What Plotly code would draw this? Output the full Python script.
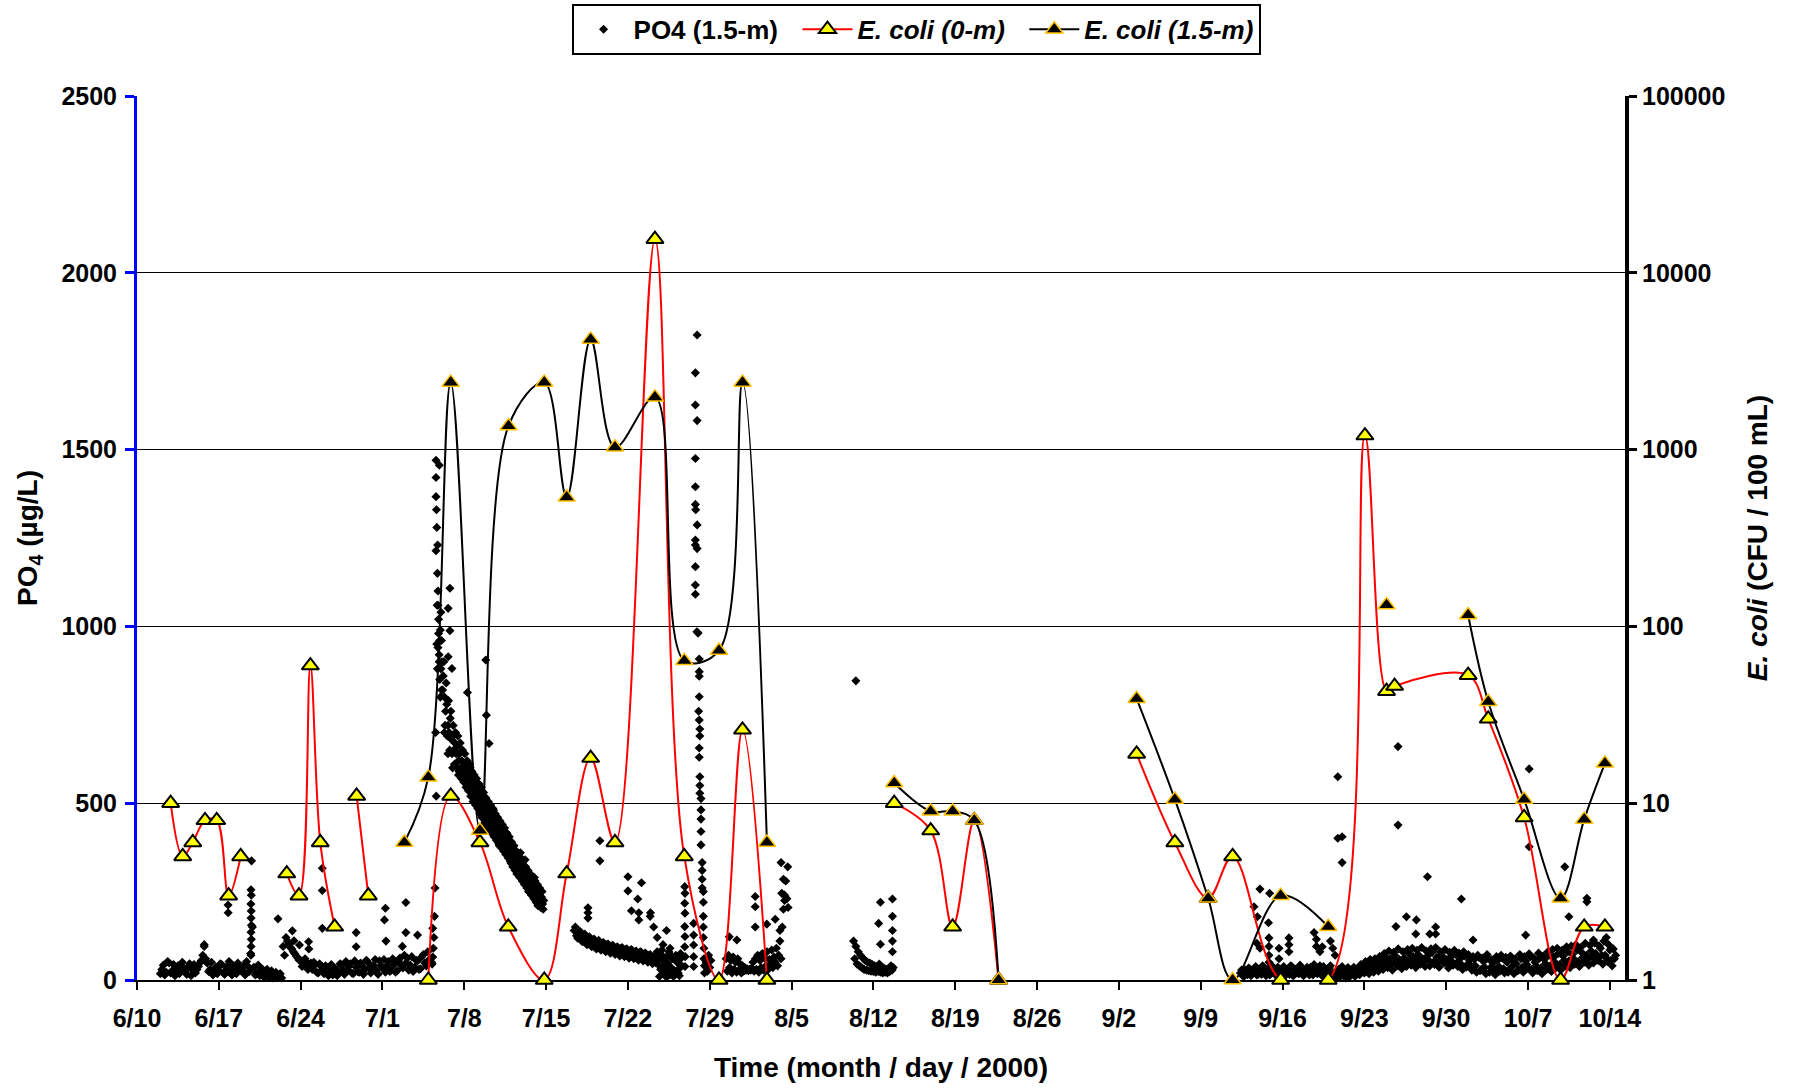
import plotly.graph_objects as go
from datetime import datetime, timedelta

BASE = datetime(2000, 6, 10)

# ---------------- E. coli (CFU / 100 mL), day = days after 6/10/2000 ----------------
ecoli0_day = [2.88, 3.91, 4.77, 5.82, 6.82, 7.84, 8.87, None,
              12.81, 13.86, 14.83, 15.68, 16.91, None,
              18.79, 19.79, None,
              24.92, 26.84, 29.34, 31.76, 34.84, 36.76, 38.81, 40.89, 44.31, 46.82, 49.79, 51.80, 53.89, None,
              64.78, 67.90, 69.78, 71.63, 73.71, None,
              85.52, 88.79, 91.64, 93.73, 97.84, 101.91, 105.05, 106.90, 107.59, 113.88, 115.60,
              118.67, 121.79, 123.81, 125.58]
ecoli0_val = [10, 5, 6, 8, 8, 3, 5, None,
              4, 3, 60, 6, 2, None,
              11, 3, None,
              1, 11, 6, 2, 1, 4, 18, 6, 15500, 5, 1, 26, 1, None,
              10, 7, 2, 8, 1, None,
              19, 6, 2.9, 5, 1, 1, 1200, 43, 46, 53, 30,
              8.3, 1, 2, 2]

ecoli15_day = [22.87, 24.92, 26.84, 29.34, 31.78, 34.84, 36.76, 38.81, 40.89, 44.31, 46.82, 49.79, 51.80, 53.89, None,
               64.78, 67.90, 69.78, 71.63, 73.71, None,
               85.52, 88.79, 91.64, 93.73, 97.84, 101.91, None,
               106.90, None,
               113.88, 115.60, 118.67, 121.79, 123.81, 125.58]
ecoli15_val = [6, 14, 2400, 7, 1360, 2400, 537, 4200, 1030, 1980, 64, 73, 2400, 6, None,
               13, 9, 9, 8, 1, None,
               39, 10.5, 2.9, 1, 3, 2, None,
               132, None,
               116, 37.5, 10.5, 2.9, 8.1, 16.8]

# ---------------- PO4 (ug/L) logged readings: start day, logging step (days), values ----------------
po4_jun = [18, 42, 22, 48, 26, 12, 40, 24, 34, 16, 46, 28, 20, 38, 55, 95,
           48, 30, 14, 36, 26, 44, 16, 34, 22, 40, 18, 32, 28, 14, 38, 70,
           36, 20, 12, 30, 18, 8, 26, 12, 8, 18, 95, 120, 102, 88, 74, 62,
           56, 44, 50, 36, 30, 44, 20, 38, 18, 36, 24, 14, 32, 20, 42, 16,
           28, 46, 18, 36, 22, 40, 30, 50, 20, 42, 26, 54, 34, 22, 52, 28,
           44, 26, 62, 34, 48, 28, 66, 36, 54, 32, 72, 40, 58]
po4_jun_b = [30, 14, 52, 20, 44, 28, 18, 50, 22, 38, 12, 44, 30, 48, 70, 60,
             24, 50, 28, 18, 46, 20, 36, 52, 14, 30, 48, 26, 40, 52, 24, 150,
             14, 42, 26, 8, 30, 16, 6, 22, 14, 6, 70, 110, 92, 80, 68, 56,
             38, 60, 30, 48, 50, 22, 46, 28, 40, 12, 44, 30, 12, 46, 28, 52,
             38, 20, 54, 24, 48, 16, 56, 34, 36, 58, 16, 40, 58, 40, 24, 60,
             22, 54, 40, 70, 62, 42, 24, 56, 30, 66, 48, 80]
po4_jul_peak = [50, 65, 120, 260, 520, 880, 1020, 960, 1040, 900,
                860, 800, 760, 780, 720, 700, 740, 680, 690, 650,
                670, 640, 660, 620, 640, 600, 620, 590, 610, 575,
                595, 565, 580, 550, 570, 540, 555, 525, 545, 515,
                530, 500, 520, 490, 505, 475, 495, 465, 480, 455,
                470, 445, 460, 435, 450, 425, 440, 410, 425, 400,
                415, 390, 405, 380, 395, 370, 385, 355, 370, 340,
                360, 330, 350, 320, 340, 310, 330, 300, 320, 290,
                305, 280, 295, 270, 285, 255, 270, 245, 260, 240,
                255, 230, 245, 225, 235, 215, 225]
po4_jul_peak_b = [45, 90, 180, 700, 950, 1060, 900, 990, 960, 820,
                  900, 720, 840, 690, 790, 650, 760, 640, 720, 610,
                  700, 600, 690, 590, 670, 570, 650, 560, 640, 545,
                  620, 535, 610, 520, 590, 505, 580, 495, 570, 485,
                  555, 470, 545, 460, 530, 445, 515, 435, 505, 425,
                  495, 415, 485, 405, 470, 395, 460, 385, 450, 375,
                  440, 365, 430, 355, 415, 345, 405, 335, 390, 320,
                  380, 310, 365, 300, 355, 290, 345, 280, 335, 270,
                  320, 260, 310, 250, 300, 240, 290, 230, 280, 220,
                  270, 215, 260, 205, 250, 200]
po4_jul_late = [140, 125, 132, 115, 125, 108, 118, 102, 112, 96,
                108, 92, 104, 88, 100, 84, 96, 80, 92, 76,
                90, 74, 86, 70, 84, 68, 80, 64, 78, 60,
                74, 58, 70, 54, 66, 48, 60, 30, 55, 20,
                48, 15, 60, 25, 50, 12, 40]
po4_jul_late_b = [150, 118, 138, 108, 130, 100, 122, 94, 116, 88,
                  112, 84, 106, 80, 102, 76, 98, 72, 94, 68,
                  92, 66, 88, 62, 86, 60, 82, 56, 80, 54,
                  76, 50, 72, 46, 68, 80, 40, 85, 18, 65,
                  30, 70, 15, 55, 20, 60]
po4_aug_early = [60, 25, 70, 35, 55, 20, 65, 30, 50, 22,
                 60, 28, 45, 20, 40, 25, 35, 28, 32, 26,
                 30, 28, 34, 50, 25, 60, 30, 70, 22, 55,
                 35, 75, 28, 62, 40, 80, 30, 58, 45, 85,
                 35, 65, 50, 90, 40, 70, 110, 60, 150, 200,
                 240, 280, 230]
po4_aug_mid = [110, 60, 95, 45, 80, 40, 70, 35, 62, 30,
               55, 28, 50, 26, 48, 25, 44, 24, 40, 22,
               38, 24, 45, 22, 36, 20, 34, 22, 30, 20,
               32, 24, 40, 28, 35]
po4_sep_oct = [20, 12, 28, 15, 32, 18, 26, 14, 30, 16,
               24, 12, 34, 18, 28, 14, 36, 20, 26, 12,
               30, 16, 38, 14, 26, 18, 34, 12, 28, 20,
               36, 14, 30, 18, 40, 12, 26, 22, 34, 10,
               20, 8, 30, 12, 24, 6, 35, 14, 28, 10,
               32, 15, 40, 20, 35, 18, 45, 22, 50, 25,
               55, 30, 65, 35, 60, 28, 70, 40, 58, 32,
               62, 38, 75, 42, 66, 35, 72, 45, 60, 38,
               68, 40, 78, 44, 64, 36, 70, 48, 58, 34,
               66, 42, 72, 38, 60, 30, 68, 44, 56, 28,
               58, 22, 64, 30, 52, 18, 60, 35, 48, 15,
               55, 25, 62, 20, 50, 30, 58, 18, 46, 28,
               60, 22, 54, 32, 66, 20, 50, 26, 62, 18,
               58, 30, 70, 24, 64, 35, 75, 28, 68, 40,
               80, 35, 72, 45, 85, 38, 78, 50, 70, 42,
               82, 48, 75, 55, 90, 45, 70, 52, 85, 40,
               60]
po4_sep_oct_b = [28, 10, 22, 34, 12, 26, 38, 16, 24, 40,
                 18, 30, 14, 40, 22, 32, 12, 28, 38, 16,
                 24, 40, 12, 30, 20, 42, 16, 26, 36, 14,
                 26, 44, 20, 32, 16, 38, 28, 14, 40, 18,
                 14, 26, 10, 38, 18, 30, 8, 24, 36, 16,
                 24, 44, 28, 52, 30, 58, 34, 60, 38, 66,
                 42, 75, 48, 82, 45, 78, 52, 88, 46, 80,
                 50, 86, 55, 90, 48, 84, 58, 92, 52, 82,
                 56, 88, 50, 92, 54, 80, 60, 86, 46, 78,
                 52, 84, 48, 76, 44, 80, 36, 72, 40, 66,
                 40, 70, 26, 62, 36, 72, 22, 58, 30, 66,
                 38, 70, 32, 64, 22, 68, 40, 60, 26, 72,
                 36, 66, 44, 74, 30, 62, 40, 76, 34, 68,
                 46, 80, 40, 86, 50, 90, 44, 84, 56, 94,
                 54, 96, 60, 100, 52, 92, 64, 104, 58, 98,
                 66, 105, 60, 96, 70, 110, 62, 100, 56, 88,
                 70]
po4_seg_start = [2.0, 2.125, 25.2, 25.25, 37.4, 37.5, 50.4, 61.3, 94.4, 94.5]
po4_seg_step = [0.25, 0.25, 0.1, 0.1, 0.2, 0.2, 0.1, 0.1, 0.2, 0.2]
po4_segments = [po4_jun, po4_jun_b, po4_jul_peak, po4_jul_peak_b, po4_jul_late, po4_jul_late_b,
                po4_aug_early, po4_aug_mid, po4_sep_oct, po4_sep_oct_b]

# individual PO4 readings (day, value) away from the logged band
po4_extra = [
    (5.75, 100), (7.79, 212), (7.80, 190), (9.72, 75), (9.75, 255), (9.78, 240), (9.74, 215), (9.77, 195),
    (9.76, 175), (9.79, 155), (9.75, 135), (9.78, 115), (9.76, 95), (9.80, 337), (12.06, 173), (13.29, 139),
    (13.43, 111), (13.90, 99), (14.68, 108), (14.70, 88), (15.85, 146), (15.85, 253), (15.85, 316),
    (18.75, 134), (18.75, 94), (21.25, 203), (21.17, 170), (21.30, 110), (23.00, 219), (23.00, 134),
    (24.00, 127), (22.70, 95), (25.30, 146),
    (25.58, 1470), (25.86, 1456), (25.58, 1421), (25.58, 1367), (25.72, 1230), (25.58, 1214), (25.62, 1330),
    (25.65, 1280), (25.70, 1150), (25.75, 1100), (25.68, 1060), (25.80, 980), (25.85, 920), (25.90, 850),
    (25.95, 800), (26.00, 880), (26.05, 820), (25.75, 940),
    (26.77, 1108), (26.62, 1051), (26.77, 988), (26.62, 914), (26.94, 881), (28.27, 813), (29.84, 905),
    (29.89, 749), (30.12, 669),
    (26.30, 700), (26.60, 640), (27.00, 600), (27.50, 580), (28.00, 560), (28.50, 600), (29.00, 500),
    (29.50, 460), (30.00, 430), (30.50, 480), (31.00, 380), (31.50, 420), (32.00, 330), (32.50, 300),
    (32.80, 360), (33.20, 340), (33.50, 250), (34.00, 290), (34.30, 210), (34.60, 250),
    (38.58, 204), (38.58, 190), (38.58, 175), (39.60, 394), (39.60, 337), (42.00, 292), (42.00, 252),
    (43.16, 275), (42.84, 229), (42.30, 196), (42.93, 190), (42.93, 170), (43.93, 190), (43.90, 180),
    (44.20, 150), (44.50, 120), (45.00, 100), (45.30, 140), (45.60, 90), (44.70, 10), (44.90, 70),
    (45.10, 40), (45.30, 8), (45.50, 80), (45.70, 35), (45.90, 10), (46.10, 70), (46.30, 30), (46.50, 75),
    (46.86, 264), (46.88, 245), (46.86, 217), (46.88, 189), (46.86, 151), (46.88, 123), (46.86, 94),
    (46.90, 66), (46.88, 38),
    (47.62, 160), (47.62, 127), (47.62, 99), (47.62, 66), (47.62, 38),
    (47.92, 1824), (47.77, 1717), (47.77, 1626), (47.92, 1582), (47.77, 1475), (47.77, 1395), (47.77, 1345),
    (47.80, 1330), (47.92, 1287), (47.77, 1244), (47.77, 1230), (47.92, 1220), (47.77, 1169), (47.77, 1117),
    (47.77, 1091), (47.90, 985), (48.00, 981), (48.10, 908), (48.10, 872), (48.10, 859), (48.10, 801),
    (48.05, 760), (48.10, 735), (48.15, 710), (48.15, 690), (48.10, 656), (48.10, 630), (48.15, 575),
    (48.15, 550), (48.15, 528), (48.25, 513), (48.25, 481), (48.25, 455), (48.25, 420), (48.25, 382),
    (48.35, 332), (48.35, 310), (48.35, 285), (48.35, 260), (48.45, 250), (48.45, 220), (48.45, 180),
    (48.45, 150), (48.45, 120), (48.50, 90), (48.50, 60), (48.55, 40), (48.55, 20),
    (48.70, 50), (48.80, 25), (48.90, 70), (49.00, 35), (49.10, 55),
    (50.67, 122), (51.32, 113), (52.89, 236), (52.89, 207), (52.89, 150), (53.88, 158), (54.60, 172),
    (55.00, 140), (55.16, 245), (55.40, 225), (55.70, 205), (55.30, 285), (55.10, 332), (55.67, 320),
    (61.50, 846), (63.60, 220), (64.63, 229), (64.63, 180), (64.63, 140), (64.63, 110), (64.63, 80),
    (63.60, 101), (63.45, 160),
    (95.56, 207), (95.85, 179), (96.07, 257), (96.90, 245), (96.80, 162), (95.80, 104), (96.07, 90),
    (96.84, 119), (96.84, 95), (96.84, 70), (96.84, 50), (97.70, 90), (97.70, 60), (98.55, 119),
    (98.55, 100), (98.55, 80), (100.70, 134), (100.90, 115), (100.90, 95), (101.20, 80), (101.40, 94),
    (102.10, 110), (102.30, 90), (102.50, 70),
    (102.73, 575), (103.10, 405), (102.73, 401), (103.10, 332), (107.88, 660), (107.88, 438), (110.40, 292),
    (113.30, 229), (119.10, 597), (119.10, 377), (122.15, 320), (124.04, 231), (124.04, 221), (122.50, 179),
    (118.80, 127), (114.30, 113), (107.70, 151), (108.60, 179), (109.45, 170), (111.10, 150), (111.10, 130),
    (109.40, 130), (110.60, 130), (125.70, 120), (124.60, 113),
]

x_ticks_every_days = 7
x_range_days = 127.3
po4_ticks = [0, 500, 1000, 1500, 2000, 2500]
ecoli_ticks = [1, 10, 100, 1000, 10000, 100000]
ecoli_ticktext = ['1', '10', '100', '1000', '10000', '100000']


def to_dates(days):
    return [BASE + timedelta(days=d) if d is not None else None for d in days]


po4_day, po4_val = [], []
for start, step, vals in zip(po4_seg_start, po4_seg_step, po4_segments):
    for i, v in enumerate(vals):
        po4_day.append(round(start + i * step, 4))
        po4_val.append(v)
for d, v in po4_extra:
    po4_day.append(d)
    po4_val.append(v)

FONT = "Liberation Sans, Arial, sans-serif"
NB = "\u00a0"

fig = go.Figure()
fig.add_trace(go.Scatter(
    x=to_dates(po4_day), y=po4_val, mode='markers', name='PO4 (1.5-m)' + NB * 2,
    marker=dict(symbol='diamond', size=7, color='black', line=dict(width=0)),
    yaxis='y', cliponaxis=False, hoverinfo='skip'))
fig.add_trace(go.Scatter(
    x=to_dates(ecoli0_day), y=ecoli0_val, mode='lines+markers', name='<i>E. coli (0-m)</i>' + NB * 2,
    line=dict(color='#FF0000', width=2, shape='spline', smoothing=1), connectgaps=False,
    marker=dict(symbol='triangle-up', size=15, color='#FFFF00', line=dict(color='black', width=2)),
    yaxis='y2', cliponaxis=False))
fig.add_trace(go.Scatter(
    x=to_dates(ecoli15_day), y=ecoli15_val, mode='lines+markers', name='<i>E. coli (1.5-m)</i>',
    line=dict(color='black', width=2, shape='spline', smoothing=1), connectgaps=False,
    marker=dict(symbol='triangle-up', size=15, color='black', line=dict(color='#FFC000', width=1.5)),
    yaxis='y2', cliponaxis=False))

fig.update_layout(
    width=1793, height=1090,
    margin=dict(l=137, r=168, t=96, b=110, autoexpand=False),
    paper_bgcolor='white', plot_bgcolor='white',
    font=dict(family=FONT, size=25, color='black', weight='bold'),
    showlegend=True,
    legend=dict(orientation='h', xref='container', yref='container',
                x=0.5109, xanchor='center', y=0.9965, yanchor='top',
                bordercolor='black', borderwidth=2, bgcolor='white', itemwidth=50,
                font=dict(family=FONT, size=26, color='black', weight='bold')),
    xaxis=dict(type='date', range=[BASE, BASE + timedelta(days=x_range_days)],
               tick0=BASE, dtick=x_ticks_every_days * 86400000, tickformat='%-m/%-d',
               showline=True, linecolor='black', linewidth=2,
               ticks='outside', ticklen=8, tickwidth=2, tickcolor='black',
               showgrid=False, zeroline=False, layer='below traces', ticklabelstandoff=7,
               tickfont=dict(family=FONT, size=25, color='black', weight='bold'),
               title=dict(text='Time (month / day / 2000)', standoff=26,
                          font=dict(family=FONT, size=28, color='black', weight='bold'))),
    yaxis=dict(range=[0, 2500], tickvals=po4_ticks, showgrid=True, gridcolor='black', gridwidth=1,
               showline=True, linecolor='#0000FF', linewidth=3,
               ticks='outside', ticklen=9, tickwidth=3, tickcolor='#0000FF',
               zeroline=False, layer='below traces', ticklabelstandoff=3,
               tickfont=dict(family=FONT, size=25, color='black', weight='bold'),
               title=dict(text='PO<sub>4</sub> (µg/L)', standoff=16,
                          font=dict(family=FONT, size=28, color='black', weight='bold'))),
    yaxis2=dict(type='log', range=[0, 5], overlaying='y', side='right',
                tickvals=ecoli_ticks, ticktext=ecoli_ticktext, showgrid=False,
                showline=True, linecolor='black', linewidth=4,
                ticks='outside', ticklen=8, tickwidth=3, tickcolor='black',
                zeroline=False, layer='below traces', ticklabelstandoff=0,
                tickfont=dict(family=FONT, size=25, color='black', weight='bold'),
                title=dict(text='<i>E. coli</i> (CFU / 100 mL)', standoff=24,
                           font=dict(family=FONT, size=28, color='black', weight='bold'))),
)

fig.write_html("out.html")
